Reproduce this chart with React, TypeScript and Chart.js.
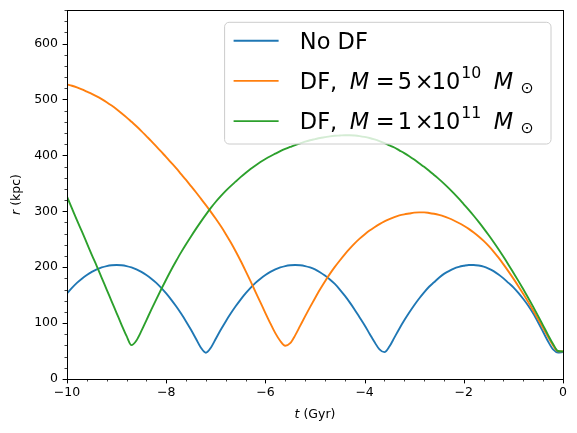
import { useEffect, useRef } from 'react';
import { Chart, registerables } from 'chart.js';

Chart.register(...registerables);

// Orbit radius r (kpc) against look-back time t (Gyr), sampled every 0.1 Gyr.
const timeGyr = [
  -10.0, -9.9, -9.8, -9.7, -9.6, -9.5, -9.4, -9.3, -9.2, -9.1,
  -9.0, -8.9, -8.8, -8.7, -8.6, -8.5, -8.4, -8.3, -8.2, -8.1,
  -8.0, -7.9, -7.8, -7.7, -7.6, -7.5, -7.4, -7.3, -7.2, -7.1,
  -7.0, -6.9, -6.8, -6.7, -6.6, -6.5, -6.4, -6.3, -6.2, -6.1,
  -6.0, -5.9, -5.8, -5.7, -5.6, -5.5, -5.4, -5.3, -5.2, -5.1,
  -5.0, -4.9, -4.8, -4.7, -4.6, -4.5, -4.4, -4.3, -4.2, -4.1,
  -4.0, -3.9, -3.8, -3.7, -3.6, -3.5, -3.4, -3.3, -3.2, -3.1,
  -3.0, -2.9, -2.8, -2.7, -2.6, -2.5, -2.4, -2.3, -2.2, -2.1,
  -2.0, -1.9, -1.8, -1.7, -1.6, -1.5, -1.4, -1.3, -1.2, -1.1,
  -1.0, -0.9, -0.8, -0.7, -0.6, -0.5, -0.4, -0.3, -0.2, -0.1,
  0.0,
];

// No dynamical friction
const radiusNoDf = [
  153, 163, 172, 179.5, 186, 191.5, 196, 199.5, 202, 203.5,
  204, 203.5, 202, 199.5, 196, 191.5, 186, 179.5, 172, 163,
  153, 142, 130, 117, 103, 88, 72, 56, 47, 56,
  72, 88, 103, 117, 130, 142, 153, 163, 172, 179.5,
  186, 191.5, 196, 199.5, 202, 203.5, 204, 203.5, 202, 199.5,
  196, 191, 185, 178, 170, 160, 149, 137, 124, 110,
  96, 81, 66, 53, 48, 58, 74, 90, 105, 119,
  132, 144, 155, 165, 173, 181, 188, 193, 197.5, 200.5,
  202.5, 204, 204, 203, 201, 197.5, 193, 187, 180, 172,
  164, 154, 143, 131, 117, 101, 84, 67, 53, 47.5,
  48,
];

// Dynamical friction, M = 5e10 Msun
const radiusDf5e10 = [
  527, 524.5, 521.5, 518, 514, 510, 505.5, 500.5, 495, 489,
  482.5, 475.5, 468, 460, 452, 443.5, 434.5, 425.5, 416, 406.5,
  397, 387, 377, 366.5, 356, 345, 334, 322.5, 311, 299,
  286.5, 273.5, 259.5, 244.5, 228.5, 211.5, 193.5, 175, 156, 137,
  118, 99.5, 82, 68, 59.5, 64, 78, 95, 112, 128.5,
  144.5, 160, 174.5, 188, 200.5, 212, 223, 233, 242.5, 251,
  258.5, 265.5, 271.5, 277, 282, 286, 289.5, 292.5, 294.5, 296,
  297.5, 298, 298, 297, 295.5, 293.5, 291, 287.5, 283.5, 279,
  274, 268.5, 262, 255, 247, 238, 228, 217, 205, 192.5,
  179.5, 166, 152, 137.5, 122.5, 107, 91, 75, 60, 49.5,
  49.5,
];

// Dynamical friction, M = 1e11 Msun
const radiusDf1e11 = [
  326, 305, 284, 264, 243, 222, 202, 181, 160, 139,
  118, 97, 77, 60.5, 69, 86, 105, 124, 142.5, 160.5,
  178, 195, 211, 226.5, 241, 255, 268.5, 281.5, 294, 306,
  317, 327, 336.5, 345, 353, 361, 368.5, 375.5, 382, 388,
  393.5, 398.5, 403, 407.5, 411.5, 415, 418.5, 421.5, 424.5, 427,
  429, 431, 432.5, 434, 435, 435.5, 436, 436, 435.5, 434.5,
  433, 431, 428.5, 425.5, 422, 418, 414, 409, 404, 398.5,
  392.5, 386, 379.5, 372.5, 365, 357.5, 349.5, 341, 332, 322.5,
  312.5, 302.5, 292, 281, 269.5, 257.5, 245, 232, 218.5, 204.5,
  190, 175.5, 160.5, 145, 129, 112.5, 95.5, 78.5, 62.5, 50,
  49.5,
];

const xTickValues = [-10, -8, -6, -4, -2, 0];
const yTickValues = [0, 100, 200, 300, 400, 500, 600];

const seriesLabels = ['No DF', 'DF, M = 5 × 10^10 M⊙', 'DF, M = 1 × 10^11 M⊙'];
const seriesColors = ['#1f77b4', '#ff7f0e', '#2ca02c'];

type Style = 'n' | 'i' | 'sup' | 'sub';
// A piece of legend text; `at` is its pen position, measured from the start of the row.
type Seg = { text: string; style: Style; at: number };
// A piece of an axis title, laid out one after another.
type Run = { text: string; style: Style };

const massLabel = (mantissa: string, exponent: string): Seg[] => [
  { text: 'DF,', style: 'n', at: 0 },
  { text: 'M', style: 'i', at: 50 },
  { text: '=', style: 'n', at: 76 },
  { text: mantissa, style: 'n', at: 98 },
  { text: '×', style: 'n', at: 115 },
  { text: '10', style: 'n', at: 132 },
  { text: exponent, style: 'sup', at: 161.5 },
  { text: 'M', style: 'i', at: 194 },
  { text: '⊙', style: 'sub', at: 220.5 },
];

const legendRows: Seg[][] = [
  [{ text: 'No DF', style: 'n', at: 0 }],
  massLabel('5', '10'),
  massLabel('1', '11'),
];

const FONT = '"DejaVu Sans"';

function styleFont(style: Style, size: number) {
  const fs = style === 'sup' || style === 'sub' ? size * 0.7 : size;
  return `${style === 'i' ? 'italic ' : ''}${fs}px ${FONT}`;
}

function styleShift(style: Style, size: number) {
  if (style === 'sup') return -0.48 * size;
  if (style === 'sub') return 0.17 * size;
  return 0;
}

// Draws one legend row; returns the pen position after its last piece.
function drawSegs(ctx: CanvasRenderingContext2D, segs: Seg[], x0: number, y: number, size: number, paint: boolean) {
  let right = 0;
  ctx.textBaseline = 'alphabetic';
  ctx.textAlign = 'left';
  for (const s of segs) {
    ctx.font = styleFont(s.style, size);
    if (paint) ctx.fillText(s.text, x0 + s.at, y + styleShift(s.style, size));
    right = Math.max(right, s.at + ctx.measureText(s.text).width);
  }
  return right;
}

function runsWidth(ctx: CanvasRenderingContext2D, runs: Run[], size: number) {
  let w = 0;
  for (const r of runs) {
    ctx.font = styleFont(r.style, size);
    w += ctx.measureText(r.text).width;
  }
  return w;
}

function drawRuns(ctx: CanvasRenderingContext2D, runs: Run[], x: number, y: number, size: number) {
  let cx = x;
  ctx.textBaseline = 'alphabetic';
  ctx.textAlign = 'left';
  for (const r of runs) {
    ctx.font = styleFont(r.style, size);
    ctx.fillText(r.text, cx, y + styleShift(r.style, size));
    cx += ctx.measureText(r.text).width;
  }
}

const fmtTick = (v: number) => String(v).replace('-', '\u2212');

// Frame, tick marks, axis titles and the legend.
const axesDecor = {
  id: 'axesDecor',
  afterDatasetsDraw(chart: any) {
    const { ctx, chartArea: a, scales } = chart;
    const xs = scales.x;
    const ys = scales.y;
    const L = Math.round(a.left);
    const R = Math.round(a.right);
    const T = Math.round(a.top);
    const B = Math.round(a.bottom);
    ctx.save();
    ctx.strokeStyle = '#000';

    // outward tick marks on the bottom and left spines
    for (let k = 0; k <= 25; k++) {
      const major = k % 5 === 0;
      const x = Math.round(xs.getPixelForValue(-10 + k * 0.4)) + 0.5;
      ctx.lineWidth = major ? 1 : 0.75;
      ctx.beginPath();
      ctx.moveTo(x, B);
      ctx.lineTo(x, B + (major ? 4.4 : 2.5));
      ctx.stroke();
    }
    for (let k = 0; k <= 33; k++) {
      const major = k % 5 === 0;
      const y = Math.round(ys.getPixelForValue(k * 20)) + 0.5;
      ctx.lineWidth = major ? 1 : 0.75;
      ctx.beginPath();
      ctx.moveTo(L, y);
      ctx.lineTo(L - (major ? 4.4 : 2.5), y);
      ctx.stroke();
    }

    // spines
    ctx.lineWidth = 1;
    ctx.strokeRect(L + 0.5, T + 0.5, R - L, B - T);

    // axis titles
    ctx.fillStyle = '#000';
    const labelSize = 12.5;
    const tTitle: Run[] = [{ text: 't', style: 'i' }, { text: ' (Gyr)', style: 'n' }];
    const rTitle: Run[] = [{ text: 'r', style: 'i' }, { text: ' (kpc)', style: 'n' }];
    const tw = runsWidth(ctx, tTitle, labelSize);
    drawRuns(ctx, tTitle, (a.left + a.right) / 2 - tw / 2, 418, labelSize);
    const rw = runsWidth(ctx, rTitle, labelSize);
    ctx.save();
    ctx.translate(19.5, (a.top + a.bottom) / 2);
    ctx.rotate(-Math.PI / 2);
    drawRuns(ctx, rTitle, -rw / 2, 0, labelSize);
    ctx.restore();

    // legend, upper right
    const fs = 22.5;
    let textW = 0;
    for (const row of legendRows) textW = Math.max(textW, drawSegs(ctx, row, 0, 0, fs, false));
    const boxR = a.right - 12;
    const boxW = 75.2 + textW + 17.5;
    const boxL = boxR - boxW;
    const boxT = a.top + 12.3;
    const pitch = 40.2;
    const boxH = 18.4 + pitch * (legendRows.length - 1) + 22.9;
    const rad = 4.5;
    ctx.beginPath();
    ctx.moveTo(boxL + rad, boxT);
    ctx.arcTo(boxR, boxT, boxR, boxT + boxH, rad);
    ctx.arcTo(boxR, boxT + boxH, boxL, boxT + boxH, rad);
    ctx.arcTo(boxL, boxT + boxH, boxL, boxT, rad);
    ctx.arcTo(boxL, boxT, boxR, boxT, rad);
    ctx.closePath();
    ctx.fillStyle = 'rgba(255,255,255,0.8)';
    ctx.fill();
    ctx.strokeStyle = '#cccccc';
    ctx.lineWidth = 1;
    ctx.stroke();

    legendRows.forEach((row, i) => {
      const cy = boxT + 18.4 + i * pitch;
      ctx.strokeStyle = seriesColors[i];
      ctx.lineWidth = 1.875;
      ctx.beginPath();
      ctx.moveTo(boxL + 9, cy);
      ctx.lineTo(boxL + 54, cy);
      ctx.stroke();
      ctx.fillStyle = '#000';
      drawSegs(ctx, row, boxL + 75.2, cy + 8, fs, true);
    });
    ctx.restore();
  },
};

export default function App() {
  const canvasRef = useRef<HTMLCanvasElement | null>(null);

  useEffect(() => {
    const canvas = canvasRef.current;
    if (!canvas) return;
    const values = [radiusNoDf, radiusDf5e10, radiusDf1e11];
    const tickFont = { family: 'DejaVu Sans', size: 12.5 };
    const chart = new Chart(canvas, {
      type: 'line',
      data: {
        datasets: values.map((vals, i) => ({
          label: seriesLabels[i],
          data: timeGyr.map((t, j) => ({ x: t, y: vals[j] })),
          borderColor: seriesColors[i],
          backgroundColor: seriesColors[i],
          borderWidth: 1.875,
          pointRadius: 0,
          fill: false,
          cubicInterpolationMode: 'monotone' as const,
          order: 2 - i,
        })),
      },
      options: {
        animation: false,
        responsive: false,
        devicePixelRatio: 1,
        events: [],
        layout: { padding: { top: 10, right: 14, left: 0, bottom: 0 } },
        plugins: {
          legend: { display: false },
          tooltip: { enabled: false },
          title: { display: false },
        },
        scales: {
          x: {
            type: 'linear',
            min: -10,
            max: 0,
            grid: { display: false, drawTicks: false },
            border: { display: false },
            ticks: {
              color: '#000',
              font: tickFont,
              padding: 6,
              maxRotation: 0,
              autoSkip: false,
              callback: (v: any) => fmtTick(Number(v)),
            },
            afterBuildTicks: (s: any) => {
              s.ticks = xTickValues.map((v) => ({ value: v }));
            },
            afterFit: (s: any) => {
              s.height = 54;
              s.paddingLeft = 0;
              s.paddingRight = 0;
            },
          },
          y: {
            type: 'linear',
            min: 0,
            max: 660,
            grid: { display: false, drawTicks: false },
            border: { display: false },
            ticks: {
              color: '#000',
              font: tickFont,
              padding: 9,
              autoSkip: false,
              callback: (v: any) => fmtTick(Number(v)),
            },
            afterBuildTicks: (s: any) => {
              s.ticks = yTickValues.map((v) => ({ value: v }));
            },
            afterFit: (s: any) => {
              s.width = 67;
              s.paddingTop = 0;
              s.paddingBottom = 0;
            },
          },
        },
      },
      plugins: [axesDecor],
    } as any);
    return () => chart.destroy();
  }, []);

  return (
    <div style={{ position: 'absolute', left: 0, top: 0, width: 577, height: 433, background: '#fff' }}>
      <canvas ref={canvasRef} width={577} height={433} style={{ display: 'block' }} />
    </div>
  );
}
